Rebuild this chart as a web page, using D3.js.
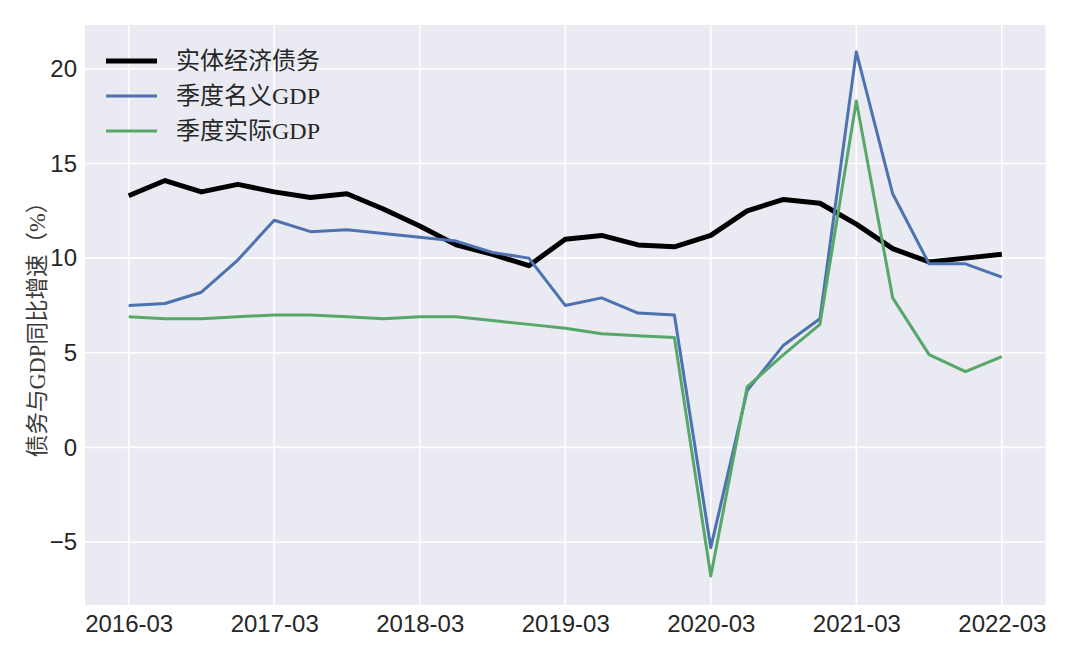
<!DOCTYPE html>
<html>
<head>
<meta charset="utf-8">
<script src="https://cdn.jsdelivr.net/npm/d3@7"></script>
<style>
  html, body { margin: 0; padding: 0; background: #ffffff; }
  svg { display: block; }
</style>
</head>
<body>
<svg id="chart" width="1080" height="661"></svg>
<script>
// ---- data ----
const quarters = ["2016-03","2016-06","2016-09","2016-12","2017-03","2017-06","2017-09","2017-12",
  "2018-03","2018-06","2018-09","2018-12","2019-03","2019-06","2019-09","2019-12",
  "2020-03","2020-06","2020-09","2020-12","2021-03","2021-06","2021-09","2021-12","2022-03"];
const debtGrowth = [13.3,14.1,13.5,13.9,13.5,13.2,13.4,12.6,11.7,10.7,10.2,9.6,11.0,11.2,10.7,10.6,11.2,12.5,13.1,12.9,11.8,10.5,9.8,10.0,10.2];
const nominalGDP = [7.5,7.6,8.2,9.9,12.0,11.4,11.5,11.3,11.1,10.9,10.3,10.0,7.5,7.9,7.1,7.0,-5.3,3.0,5.4,6.8,20.9,13.4,9.7,9.7,9.0];
const realGDP    = [6.9,6.8,6.8,6.9,7.0,7.0,6.9,6.8,6.9,6.9,6.7,6.5,6.3,6.0,5.9,5.8,-6.8,3.2,4.9,6.5,18.3,7.9,4.9,4.0,4.8];
const seriesNames = ["实体经济债务","季度名义GDP","季度实际GDP"];
const xTickLabels = ["2016-03","2017-03","2018-03","2019-03","2020-03","2021-03","2022-03"];
const yTicks = [-5,0,5,10,15,20];
const yLabel = "债务与GDP同比增速（%）";

// ---- layout ----
const svg = d3.select("#chart");
const L = 85, R = 1045.5, T = 25, B = 605;
const n = quarters.length;
const pad = (n - 1) * 0.05;
const x = d3.scaleLinear().domain([-pad, n - 1 + pad]).range([L, R]);
const y = d3.scaleLinear().domain([-8.33, 22.32]).range([B, T]);

const bg = "#EAEAF2";
const tickFont = "'Liberation Sans', Arial, sans-serif";
const cjkFont = "'Liberation Serif', 'Noto Sans CJK SC', serif";

svg.append("rect").attr("x", L).attr("y", T).attr("width", R - L).attr("height", B - T).attr("fill", bg);

const xTickIdx = xTickLabels.map(l => quarters.indexOf(l));

// grid
svg.append("g").selectAll("line").data(yTicks).join("line")
  .attr("x1", L).attr("x2", R).attr("y1", d => y(d)).attr("y2", d => y(d))
  .attr("stroke", "#fff").attr("stroke-width", 1.6);
svg.append("g").selectAll("line").data(xTickIdx).join("line")
  .attr("y1", T).attr("y2", B).attr("x1", d => x(d)).attr("x2", d => x(d))
  .attr("stroke", "#fff").attr("stroke-width", 1.6);

// axes (text only, seaborn style)
const yAxis = d3.axisLeft(y).tickValues(yTicks).tickSize(0).tickPadding(8)
  .tickFormat(d => d < 0 ? "\u2212" + Math.abs(d) : d);
const gy = svg.append("g").attr("transform", `translate(${L},0)`).call(yAxis);
gy.select(".domain").remove();
gy.selectAll("text").attr("font-family", tickFont).attr("font-size", 24).attr("fill", "#262626");

const xAxis = d3.axisBottom(x).tickValues(xTickIdx).tickSize(0).tickPadding(10)
  .tickFormat(d => quarters[d]);
const gx = svg.append("g").attr("transform", `translate(0,${B})`).call(xAxis);
gx.select(".domain").remove();
gx.selectAll("text").attr("font-family", tickFont).attr("font-size", 24).attr("fill", "#262626");

// y label
svg.append("text")
  .attr("transform", `translate(45,${(T + B) / 2 + 9}) rotate(-90)`)
  .attr("text-anchor", "middle")
  .attr("font-family", cjkFont).attr("font-size", 22.5).attr("fill", "#3a3a3a")
  .text(yLabel);

// lines
const line = d3.line().x((d, i) => x(i)).y(d => y(d));
const series = [
  { name: seriesNames[0], values: debtGrowth, color: "#000000", width: 5 },
  { name: seriesNames[1], values: nominalGDP, color: "#4C72B0", width: 3 },
  { name: seriesNames[2], values: realGDP, color: "#55A868", width: 3 }
];
svg.append("g").selectAll("path").data(series).join("path")
  .attr("d", d => line(d.values))
  .attr("fill", "none")
  .attr("stroke", d => d.color)
  .attr("stroke-width", d => d.width)
  .attr("stroke-linejoin", "round")
  .attr("stroke-linecap", "butt");

// legend
const lg = svg.append("g").attr("transform", "translate(106,61)");
const rowH = 35;
const items = lg.selectAll("g").data(series).join("g")
  .attr("transform", (d, i) => `translate(0,${i * rowH})`);
items.append("line").attr("x1", 0).attr("x2", 51).attr("y1", 0).attr("y2", 0)
  .attr("stroke", d => d.color).attr("stroke-width", d => d.width).attr("stroke-linecap", "butt");
items.append("text").attr("x", 70).attr("y", 0).attr("dy", "0.35em")
  .attr("font-family", cjkFont).attr("font-size", 24).attr("fill", "#262626")
  .text(d => d.name);
</script>
</body>
</html>
